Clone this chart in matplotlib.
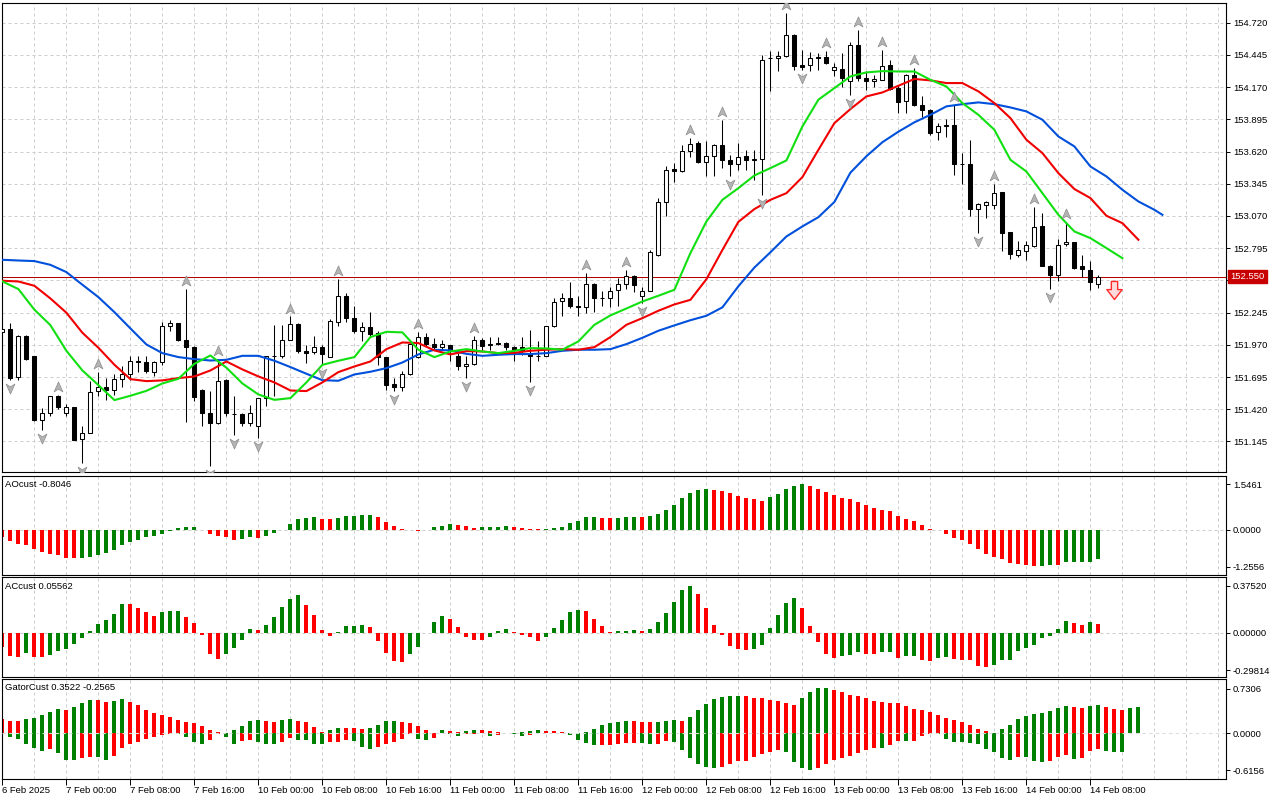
import numpy as np
import matplotlib
matplotlib.use("Agg")
import matplotlib.pyplot as plt
import matplotlib.transforms as mtransforms
from matplotlib.path import Path

plt.rcParams['font.family'] = ['Liberation Sans', 'DejaVu Sans']
FS = 6.8

# ---------------- H1 bars, bar 0 = 6 Feb 16:00, bar 137 = 14 Feb 09:00 ----------------
opens = [
    152.082, 152.107, 151.694, 152.047, 151.876, 151.330, 151.387, 151.535, 151.387, 151.441,
    151.165, 151.216, 151.572, 151.606, 151.586, 151.680, 151.723, 151.834, 151.822, 151.737,
    151.822, 152.132, 152.155, 152.013, 151.950, 151.586, 151.387, 151.301, 151.671, 151.378,
    151.378, 151.301, 151.278, 151.520, 151.876, 151.871, 152.013, 152.150, 151.913, 151.908,
    151.950, 151.865, 152.164, 152.389, 152.198, 152.090, 152.121, 152.070, 151.865, 151.637,
    151.606, 151.720, 151.865, 152.036, 151.976, 151.950, 151.967, 151.876, 151.785, 151.805,
    152.013, 151.976, 151.985, 151.985, 151.948, 151.948, 151.893, 151.871, 151.876, 152.127,
    152.340, 152.369, 152.298, 152.292, 152.488, 152.369, 152.369, 152.440, 152.488, 152.559,
    152.383, 152.431, 152.733, 153.189, 153.470, 153.450, 153.627, 153.692, 153.527, 153.584,
    153.678, 153.550, 153.513, 153.584, 153.550, 153.556, 154.415, 154.415, 154.433, 154.618,
    154.356, 154.356, 154.424, 154.427, 154.319, 154.324, 154.219, 154.532, 154.247, 154.225,
    154.233, 154.358, 154.162, 154.048, 154.276, 154.017, 153.977, 153.786, 153.840, 153.849,
    153.516, 153.516, 153.129, 153.166, 153.166, 153.271, 152.932, 152.733, 152.767, 152.810,
    152.986, 152.645, 152.562, 152.833, 152.847, 152.639, 152.611, 152.488]
highs = [
    152.115, 152.155, 152.056, 152.056, 151.876, 151.429, 151.535, 151.540, 151.466, 151.441,
    151.273, 151.663, 151.734, 151.686, 151.723, 151.785, 151.871, 151.876, 151.871, 151.828,
    152.169, 152.184, 152.160, 152.446, 151.956, 151.590, 151.572, 151.850, 151.675, 151.529,
    151.387, 151.458, 151.520, 151.876, 152.141, 152.141, 152.212, 152.155, 151.970, 152.047,
    151.970, 152.189, 152.531, 152.411, 152.298, 152.161, 152.246, 152.090, 151.868, 151.686,
    151.743, 151.980, 152.076, 152.070, 152.027, 152.013, 151.970, 151.899, 151.871, 152.047,
    152.027, 152.041, 152.036, 151.993, 151.956, 152.041, 152.098, 151.999, 152.132, 152.374,
    152.411, 152.505, 152.383, 152.582, 152.497, 152.426, 152.460, 152.540, 152.605, 152.562,
    152.463, 152.776, 153.223, 153.493, 153.522, 153.678, 153.735, 153.707, 153.707, 153.687,
    153.886, 153.593, 153.692, 153.635, 153.635, 154.447, 154.475, 154.475, 154.803, 154.623,
    154.489, 154.467, 154.461, 154.480, 154.376, 154.461, 154.552, 154.660, 154.304, 154.276,
    154.489, 154.404, 154.191, 154.284, 154.330, 154.091, 153.980, 153.863, 153.900, 154.020,
    153.607, 153.721, 153.180, 153.194, 153.345, 153.273, 152.935, 152.853, 152.853, 153.151,
    153.094, 152.648, 152.873, 153.015, 152.850, 152.739, 152.688, 152.562]
lows = [
    152.070, 151.671, 151.671, 151.842, 151.316, 151.244, 151.358, 151.421, 151.364, 151.153,
    150.960, 151.216, 151.529, 151.500, 151.538, 151.614, 151.671, 151.734, 151.728, 151.700,
    151.799, 152.084, 151.999, 151.310, 151.486, 151.281, 150.931, 151.295, 151.358, 151.202,
    151.273, 151.273, 151.173, 151.444, 151.529, 151.856, 152.010, 151.899, 151.814, 151.893,
    151.799, 151.862, 152.127, 152.161, 152.070, 152.004, 152.036, 151.799, 151.586, 151.572,
    151.572, 151.714, 151.856, 151.956, 151.928, 151.928, 151.828, 151.757, 151.686, 151.799,
    151.928, 151.928, 151.970, 151.928, 151.828, 151.885, 151.649, 151.834, 151.871, 152.121,
    152.212, 152.283, 152.218, 152.241, 152.246, 152.298, 152.292, 152.298, 152.446, 152.417,
    152.326, 152.426, 152.725, 153.066, 153.357, 153.447, 153.570, 153.522, 153.413, 153.413,
    153.479, 153.413, 153.465, 153.459, 153.379, 153.251, 154.134, 154.304, 154.427, 154.313,
    154.319, 154.304, 154.319, 154.370, 154.262, 154.171, 154.105, 154.219, 154.148, 154.171,
    154.228, 154.142, 153.949, 153.949, 154.011, 153.914, 153.764, 153.721, 153.744, 153.416,
    153.345, 153.066, 152.924, 153.052, 153.129, 152.767, 152.702, 152.724, 152.696, 152.804,
    152.639, 152.446, 152.511, 152.810, 152.616, 152.548, 152.434, 152.454]
closes = [
    152.104, 151.686, 152.047, 151.851, 151.330, 151.387, 151.535, 151.438, 151.438, 151.159,
    151.216, 151.566, 151.614, 151.583, 151.680, 151.720, 151.834, 151.822, 151.748, 151.822,
    152.132, 152.155, 152.013, 151.950, 151.523, 151.387, 151.301, 151.657, 151.387, 151.380,
    151.301, 151.387, 151.520, 151.871, 151.877, 152.013, 152.150, 151.913, 151.899, 151.950,
    151.891, 152.175, 152.389, 152.198, 152.084, 152.121, 152.061, 151.865, 151.629, 151.606,
    151.720, 151.976, 152.036, 151.976, 151.950, 151.976, 151.922, 151.785, 151.805, 152.013,
    151.962, 151.965, 151.976, 151.948, 151.928, 151.919, 151.876, 151.876, 152.127, 152.335,
    152.374, 152.298, 152.292, 152.488, 152.369, 152.368, 152.426, 152.488, 152.554, 152.483,
    152.431, 152.762, 153.189, 153.465, 153.456, 153.627, 153.684, 153.527, 153.584, 153.678,
    153.550, 153.513, 153.573, 153.550, 153.553, 154.404, 154.416, 154.433, 154.618, 154.347,
    154.341, 154.418, 154.418, 154.376, 154.339, 154.245, 154.532, 154.247, 154.219, 154.239,
    154.347, 154.154, 154.043, 154.270, 154.014, 153.977, 153.778, 153.835, 153.843, 153.513,
    153.513, 153.129, 153.171, 153.189, 153.265, 152.929, 152.744, 152.776, 152.824, 152.972,
    152.645, 152.562, 152.824, 152.847, 152.625, 152.616, 152.505, 152.550]

# Alligator lines, read every 2 bars (shifted lines run past the last bar)
jaw_x = list(range(0, 145, 2)) + [145]
jaw = [152.696, 152.690, 152.685, 152.653, 152.591, 152.483, 152.377, 152.249, 152.110, 151.973,
       151.899, 151.865, 151.848, 151.836, 151.842, 151.876, 151.876, 151.834, 151.780, 151.723,
       151.668, 151.663, 151.717, 151.740, 151.771, 151.819, 151.888, 151.928, 151.922, 151.893,
       151.876, 151.885, 151.891, 151.891, 151.899, 151.919, 151.928, 151.928, 151.933, 151.976,
       152.030, 152.090, 152.136, 152.180, 152.218, 152.290, 152.470, 152.630, 152.760, 152.895,
       152.981, 153.060, 153.190, 153.440, 153.580, 153.700, 153.790, 153.870, 153.934, 154.006,
       154.025, 154.040, 154.025, 153.997, 153.963, 153.892, 153.749, 153.664, 153.493, 153.408,
       153.294, 153.194, 153.123, 153.080]
teeth_x = list(range(0, 143, 2))
teeth = [152.517, 152.511, 152.474, 152.366, 152.244, 152.073, 151.945, 151.800, 151.677, 151.660,
         151.666, 151.686, 151.700, 151.751, 151.828, 151.760, 151.700, 151.649, 151.580, 151.575,
         151.649, 151.737, 151.785, 151.828, 151.933, 151.990, 151.985, 151.922, 151.888, 151.916,
         151.913, 151.899, 151.902, 151.919, 151.928, 151.933, 151.928, 151.950, 152.036, 152.141,
         152.198, 152.261, 152.315, 152.354, 152.530, 152.780, 153.020, 153.129, 153.208, 153.265,
         153.402, 153.635, 153.863, 153.983, 154.091, 154.125, 154.182, 154.240, 154.228, 154.205,
         154.205, 154.134, 154.034, 153.906, 153.721, 153.607, 153.436, 153.300, 153.223, 153.072,
         153.009, 152.867]
lips_x = list(range(0, 141, 2))
lips = [152.511, 152.446, 152.270, 152.138, 151.919, 151.751, 151.626, 151.498, 151.535, 151.577,
        151.640, 151.680, 151.808, 151.879, 151.775, 151.640, 151.546, 151.500, 151.515, 151.649,
        151.799, 151.834, 151.865, 152.036, 152.081, 152.076, 151.928, 151.865, 151.913, 151.933,
        151.913, 151.899, 151.919, 151.942, 151.939, 151.928, 151.999, 152.141, 152.221, 152.280,
        152.340, 152.389, 152.440, 152.753, 153.023, 153.208, 153.308, 153.416, 153.479, 153.544,
        153.835, 154.063, 154.162, 154.262, 154.296, 154.307, 154.304, 154.304, 154.233, 154.176,
        154.034, 153.934, 153.806, 153.550, 153.450, 153.265, 153.080, 152.938, 152.881, 152.796,
        152.710]

fractal_up = [7, 12, 23, 27, 36, 42, 52, 59, 73, 78, 86, 90, 98, 103, 107, 110, 114, 119, 124, 129, 133]
fractal_dn = [1, 5, 10, 26, 29, 32, 40, 49, 58, 66, 80, 91, 95, 100, 106, 122, 131]
sell_idx = [139]
sell_price = [152.44]
last_price = 152.550

price_ticks = [151.145, 151.420, 151.695, 151.970, 152.245, 152.520, 152.795,
               153.070, 153.345, 153.620, 153.895, 154.170, 154.445, 154.720]

ao = [-0.26, -0.375, -0.48, -0.51, -0.65, -0.75, -0.83, -0.86, -0.965, -0.97,
      -0.965, -0.92, -0.86, -0.80, -0.68, -0.53, -0.42, -0.34, -0.26, -0.22,
      -0.16, -0.05, 0.06, 0.08, 0.09, -0.01, -0.15, -0.23, -0.26, -0.34,
      -0.33, -0.26, -0.27, -0.20, -0.11, -0.02, 0.19, 0.36, 0.40, 0.43,
      0.36, 0.355, 0.40, 0.45, 0.455, 0.49, 0.50, 0.42, 0.25, 0.14,
      0.02, -0.02, -0.035, 0.0, 0.08, 0.14, 0.18, 0.15, 0.11, 0.075,
      0.078, 0.09, 0.10, 0.11, 0.09, 0.06, 0.025, 0.01, 0.02, 0.06,
      0.085, 0.23, 0.30, 0.415, 0.42, 0.395, 0.39, 0.40, 0.43, 0.435,
      0.43, 0.47, 0.54, 0.66, 0.84, 1.07, 1.24, 1.34, 1.38, 1.36,
      1.32, 1.23, 1.14, 1.07, 1.03, 0.98, 1.11, 1.21, 1.38, 1.49,
      1.546, 1.47, 1.38, 1.29, 1.16, 1.06, 1.03, 0.94, 0.84, 0.75,
      0.67, 0.62, 0.46, 0.37, 0.29, 0.16, 0.02, -0.01, -0.147, -0.27,
      -0.35, -0.485, -0.655, -0.824, -0.914, -1.0, -1.117, -1.163, -1.196, -1.22,
      -1.218, -1.208, -1.212, -1.106, -1.095, -1.09, -1.083, -1.005]

ac = [-0.109, -0.181, -0.189, -0.160, -0.189, -0.190, -0.176, -0.141, -0.128, -0.088,
      -0.040, 0.016, 0.072, 0.106, 0.152, 0.231, 0.229, 0.200, 0.170, 0.136,
      0.170, 0.172, 0.173, 0.125, 0.080, -0.013, -0.168, -0.208, -0.168, -0.122,
      -0.053, 0.032, 0.024, 0.064, 0.130, 0.205, 0.271, 0.303, 0.224, 0.144,
      0.024, -0.027, 0.011, 0.056, 0.057, 0.067, 0.045, -0.061, -0.160, -0.226,
      -0.229, -0.168, -0.109, 0.003, 0.090, 0.133, 0.112, 0.050, -0.029, -0.053,
      -0.054, -0.030, 0.013, 0.029, 0.011, -0.013, -0.035, -0.061, -0.029, 0.043,
      0.106, 0.170, 0.184, 0.178, 0.112, 0.053, 0.010, 0.012, 0.019, 0.021,
      0.019, 0.032, 0.088, 0.160, 0.250, 0.343, 0.375, 0.310, 0.200, 0.064,
      -0.013, -0.100, -0.125, -0.133, -0.128, -0.093, 0.040, 0.144, 0.242, 0.279,
      0.200, 0.056, -0.069, -0.165, -0.202, -0.184, -0.176, -0.152, -0.165, -0.166,
      -0.149, -0.148, -0.197, -0.186, -0.185, -0.213, -0.221, -0.202, -0.194, -0.210,
      -0.213, -0.214, -0.263, -0.274, -0.253, -0.216, -0.213, -0.141, -0.122, -0.093,
      -0.037, -0.021, 0.032, 0.096, 0.077, 0.061, 0.088, 0.069]

gator_up = [0.231, 0.198, 0.197, 0.225, 0.247, 0.297, 0.346, 0.396, 0.379, 0.429,
            0.500, 0.544, 0.543, 0.511, 0.527, 0.560, 0.516, 0.467, 0.379, 0.330,
            0.297, 0.258, 0.209, 0.187, 0.165, 0.115, 0.049, 0.011, 0.004, 0.049,
            0.115, 0.198, 0.220, 0.198, 0.181, 0.220, 0.231, 0.198, 0.176, 0.099,
            0.016, 0.049, 0.082, 0.081, 0.080, 0.066, 0.082, 0.132, 0.198, 0.199,
            0.181, 0.165, 0.115, 0.049, 0.002, 0.049, 0.033, 0.010, 0.033, 0.049,
            0.048, 0.033, 0.016, 0.005, 0.003, 0.016, 0.033, 0.049, 0.033, 0.032,
            0.016, 0.005, 0.004, 0.016, 0.066, 0.132, 0.165, 0.181, 0.198, 0.197,
            0.181, 0.180, 0.182, 0.198, 0.214, 0.198, 0.264, 0.379, 0.478, 0.560,
            0.593, 0.610, 0.615, 0.610, 0.577, 0.576, 0.544, 0.527, 0.495, 0.462,
            0.577, 0.676, 0.742, 0.743, 0.709, 0.676, 0.626, 0.610, 0.577, 0.527,
            0.510, 0.495, 0.494, 0.445, 0.396, 0.379, 0.346, 0.297, 0.247, 0.214,
            0.181, 0.132, 0.066, 0.033, 0.003, 0.066, 0.132, 0.231, 0.280, 0.313,
            0.330, 0.363, 0.412, 0.445, 0.429, 0.412, 0.445, 0.462, 0.429, 0.396,
            0.379, 0.412, 0.429]
gator_dn = [-0.010, -0.060, -0.099, -0.176, -0.247, -0.291, -0.258, -0.324, -0.440, -0.441,
            -0.418, -0.396, -0.397, -0.440, -0.374, -0.247, -0.176, -0.143, -0.099, -0.060,
            -0.030, -0.010, -0.012, -0.060, -0.143, -0.176, -0.110, -0.022, -0.060, -0.176,
            -0.137, -0.110, -0.143, -0.176, -0.177, -0.143, -0.077, -0.110, -0.111, -0.176,
            -0.177, -0.143, -0.142, -0.110, -0.132, -0.231, -0.258, -0.225, -0.176, -0.143,
            -0.099, -0.010, -0.099, -0.110, -0.082, -0.005, -0.022, -0.044, -0.022, -0.011,
            -0.006, -0.044, -0.027, -0.005, -0.022, -0.044, -0.027, -0.006, -0.005, -0.002,
            -0.001, -0.027, -0.110, -0.159, -0.192, -0.191, -0.190, -0.176, -0.163, -0.162,
            -0.165, -0.181, -0.180, -0.132, -0.148, -0.280, -0.412, -0.511, -0.560, -0.577,
            -0.560, -0.511, -0.462, -0.456, -0.396, -0.346, -0.313, -0.280, -0.313, -0.478,
            -0.577, -0.610, -0.577, -0.511, -0.445, -0.412, -0.379, -0.330, -0.280, -0.247,
            -0.250, -0.192, -0.132, -0.133, -0.131, -0.044, -0.016, -0.022, -0.099, -0.148,
            -0.154, -0.165, -0.181, -0.264, -0.313, -0.412, -0.445, -0.396, -0.397, -0.462,
            -0.478, -0.462, -0.396, -0.363, -0.429, -0.412, -0.297, -0.264, -0.297, -0.313,
            -0.314]

time_labels = ['6 Feb 2025', '7 Feb 00:00', '7 Feb 08:00', '7 Feb 16:00', '10 Feb 00:00',
               '10 Feb 08:00', '10 Feb 16:00', '11 Feb 00:00', '11 Feb 08:00', '11 Feb 16:00',
               '12 Feb 00:00', '12 Feb 08:00', '12 Feb 16:00', '13 Feb 00:00', '13 Feb 08:00',
               '13 Feb 16:00', '14 Feb 00:00', '14 Feb 08:00']
time_label_idx = list(range(0, 8 * len(time_labels), 8))

# ---------------- layout ----------------
W, H = 1280, 800
GREEN, RED = '#008000', '#FF0000'
GRID = '#CDCDCD'
DASH = (0, (3, 3))


def px_box(x0, y0, x1, y1):
    return [x0 / W, 1 - y1 / H, (x1 - x0) / W, (y1 - y0) / H]


fig = plt.figure(figsize=(12.8, 8), dpi=100, facecolor='white')
ax = fig.add_axes(px_box(2.3, 2.5, 1226, 472))
ax_ao = fig.add_axes(px_box(2.3, 475.7, 1226, 574.7))
ax_ac = fig.add_axes(px_box(2.3, 577.3, 1226, 676.7))
ax_g = fig.add_axes(px_box(2.3, 678.7, 1226, 778.7))

XMIN, XMAX = -0.0125, 152.95
for a in (ax, ax_ao, ax_ac, ax_g):
    a.set_xlim(XMIN, XMAX)
    for xg in range(0, 153, 4):
        a.axvline(xg, color=GRID, lw=0.72, ls=DASH, zorder=0)
    for s in a.spines.values():
        s.set_linewidth(0.8)
        s.set_color('black')
    a.yaxis.tick_right()
    a.tick_params(axis='y', length=3, width=0.7, pad=2, labelsize=FS, colors='black')
    a.tick_params(axis='x', bottom=False, labelbottom=False)

# ---------------- main price panel ----------------
ax.set_ylim(150.884, 154.893)
ax.set_yticks(price_ticks)
# the label right under the current-price box is hidden by it, as in the terminal
ax.set_yticklabels(['' if abs(p - last_price) < 0.05 else f'{p:.3f}' for p in price_ticks])
for p in price_ticks:
    ax.axhline(p, color=GRID, lw=0.72, ls=DASH, zorder=0)

ax.axhline(last_price, color='#B40000', lw=0.75, zorder=2)

idx = np.arange(len(closes))
o, hi, lo, c = map(np.array, (opens, highs, lows, closes))
bull = c >= o
ax.vlines(idx, lo, hi, color='black', lw=0.75, zorder=3)
ax.bar(idx, np.abs(c - o), bottom=np.minimum(o, c), width=0.5,
       color=['white' if b else 'black' for b in bull],
       edgecolor='black', linewidth=0.75, zorder=4)

ax.plot(jaw_x, jaw, color='#0050DC', lw=1.5, zorder=5, solid_joinstyle='round')
ax.plot(teeth_x, teeth, color='#F00000', lw=1.5, zorder=5, solid_joinstyle='round')
ax.plot(lips_x, lips, color='#10E010', lw=1.5, zorder=5, solid_joinstyle='round')

up_arrow = Path([(0, 1), (0.8, -0.8), (0, -0.3), (-0.8, -0.8), (0, 1)],
                [Path.MOVETO, Path.LINETO, Path.LINETO, Path.LINETO, Path.CLOSEPOLY])
dn_arrow = Path([(0, -1), (0.8, 0.8), (0, 0.3), (-0.8, 0.8), (0, -1)],
                [Path.MOVETO, Path.LINETO, Path.LINETO, Path.LINETO, Path.CLOSEPOLY])
off = 0.068
ax.plot(fractal_up, [hi[i] + off for i in fractal_up], ls='none', marker=up_arrow,
        ms=8, mfc='#B4B4B4', mec='#8C8C8C', mew=0.5, zorder=7)
ax.plot(fractal_dn, [lo[i] - off for i in fractal_dn], ls='none', marker=dn_arrow,
        ms=8, mfc='#B4B4B4', mec='#8C8C8C', mew=0.5, zorder=7)

sell_arrow = Path([(-0.35, 1), (0.35, 1), (0.35, 0.1), (0.85, 0.1), (0, -1),
                   (-0.85, 0.1), (-0.35, 0.1), (-0.35, 1)],
                  [Path.MOVETO] + [Path.LINETO] * 6 + [Path.CLOSEPOLY])
ax.plot(sell_idx, sell_price, ls='none', marker=sell_arrow, ms=13,
        mfc='#FFDADA', mec='#FF2A2A', mew=1.0, zorder=7)

btrans = mtransforms.blended_transform_factory(ax.transAxes, ax.transData)
ax.text(1.0035, last_price, f'{last_price:.3f}', transform=btrans, ha='left', va='center',
        fontsize=FS, color='white', clip_on=False, zorder=20,
        bbox=dict(boxstyle='square,pad=0.22', fc='#C80000', ec='#C80000'))

# ---------------- oscillator panels ----------------
def rise_colors(vals, absolute=False):
    v = np.abs(vals) if absolute else np.asarray(vals)
    cols = [RED]
    for k in range(1, len(v)):
        cols.append(GREEN if v[k] > v[k - 1] else RED)
    return cols


ax_ao.set_ylim(-1.525, 1.831)
ax_ao.axhline(0, color=GRID, lw=0.72, ls=DASH, zorder=0)
ax_ao.bar(np.arange(len(ao)), ao, width=0.5, color=rise_colors(ao), linewidth=0, zorder=2)
ao_ticks = [1.5461, 0.0, -1.2556]
ax_ao.set_yticks(ao_ticks)
ax_ao.set_yticklabels([f'{t:.4f}' for t in ao_ticks])

ax_ac.set_ylim(-0.3488, 0.4445)
ax_ac.axhline(0, color=GRID, lw=0.72, ls=DASH, zorder=0)
ax_ac.bar(np.arange(len(ac)), ac, width=0.5, color=rise_colors(ac), linewidth=0, zorder=2)
ac_ticks = [0.3752, 0.0, -0.29814]
ax_ac.set_yticks(ac_ticks)
ax_ac.set_yticklabels([f'{t:.5f}' for t in ac_ticks])

ax_g.set_ylim(-0.753, 0.895)
ax_g.bar(np.arange(len(gator_up)), gator_up, width=0.5, color=rise_colors(gator_up),
         linewidth=0, zorder=2)
ax_g.bar(np.arange(len(gator_dn)), gator_dn, width=0.5,
         color=rise_colors(gator_dn, absolute=True), linewidth=0, zorder=2)
ax_g.axhline(0, color='#DCDCDC', lw=0.8, ls=DASH, zorder=3)
g_ticks = [0.7306, 0.0, -0.6156]
ax_g.set_yticks(g_ticks)
ax_g.set_yticklabels([f'{t:.4f}' for t in g_ticks])

for a, title in ((ax_ao, 'AOcust -0.8046'), (ax_ac, 'ACcust 0.05562'),
                 (ax_g, 'GatorCust 0.3522 -0.2565')):
    a.annotate(title, xy=(0, 1), xycoords='axes fraction', xytext=(3, -9),
               textcoords='offset pixels', ha='left', va='center', fontsize=FS)

# time axis
ax_g.tick_params(axis='x', bottom=True, labelbottom=True, length=4, width=0.7,
                 pad=1.5, labelsize=FS, direction='out')
ax_g.set_xticks(time_label_idx)
ax_g.set_xticklabels(time_labels, ha='left')

fig.savefig('out.png', dpi=100, facecolor='white')
